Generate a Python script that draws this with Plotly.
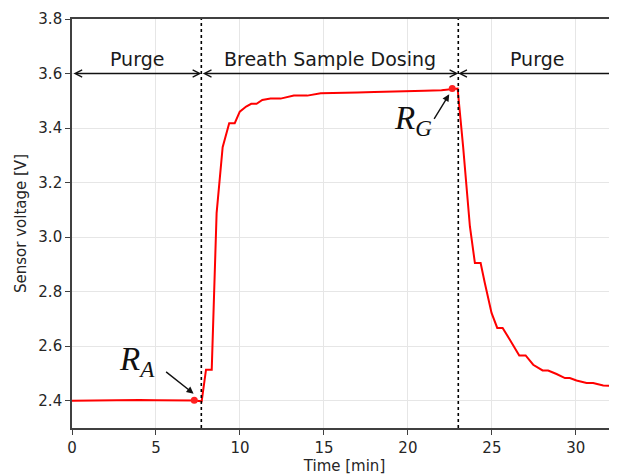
import plotly.graph_objects as go

# 传感器电压读数
time_min = [0, 1, 2, 3, 4, 5, 6, 7, 7.3, 7.72,
            7.98, 8.32, 8.61, 8.97, 9.36, 9.69, 9.99, 10.37, 10.67, 10.99,
            11.33, 11.82, 12.42, 13.21, 14.01, 14.81, 16, 17, 18, 19,
            20, 21, 22, 22.64, 22.96,
            23.29, 23.69, 23.99, 24.33, 24.58, 24.98, 25.32, 25.64, 26.07, 26.63,
            27.01, 27.46, 28.02, 28.35, 28.85, 29.35, 29.64, 30.04, 30.64, 31.03,
            31.63, 32.42, 32.8]
voltage = [2.400, 2.401, 2.402, 2.402, 2.403, 2.402, 2.402, 2.401, 2.401, 2.398,
           2.514, 2.514, 3.088, 3.330, 3.418, 3.418, 3.460, 3.479, 3.489, 3.489,
           3.503, 3.508, 3.508, 3.519, 3.519, 3.528, 3.528, 3.530, 3.532, 3.533,
           3.535, 3.537, 3.539, 3.542, 3.545,
           3.330, 3.040, 2.905, 2.905, 2.832, 2.722, 2.667, 2.667, 2.624, 2.566,
           2.566, 2.532, 2.511, 2.511, 2.498, 2.483, 2.483, 2.474, 2.465, 2.465,
           2.456, 2.453, 2.452]

# 阶段分界与标签
phase_edges = [0, 7.7, 23.0, 32.45]
phase_labels = ['Purge', 'Breath Sample Dosing', 'Purge']

# R_A / R_G 取点
ra_point = (7.28, 2.402)
rg_point = (22.64, 3.545)

x_ticks = [0, 5, 10, 15, 20, 25, 30]
y_ticks = [2.4, 2.6, 2.8, 3.0, 3.2, 3.4, 3.6, 3.8]

fig = go.Figure()

# 电压曲线
fig.add_trace(go.Scatter(
    x=time_min, y=voltage, mode='lines',
    line=dict(color='#ff0000', width=2), showlegend=False
))

# R_A 和 R_G 点
fig.add_trace(go.Scatter(
    x=[ra_point[0], rg_point[0]], y=[ra_point[1], rg_point[1]], mode='markers',
    marker=dict(color='#ff2020', size=7), showlegend=False
))

# 分界虚线
for xv in phase_edges[1:3]:
    fig.add_vline(x=xv, line=dict(color='black', width=1.6, dash='dot'), layer='above')

# 阶段箭头和文字
for i, label in enumerate(phase_labels):
    x0, x1 = phase_edges[i], phase_edges[i + 1]
    fig.add_annotation(
        x=x1 if i < 2 else x0, y=3.6,
        ax=x0 if i < 2 else x1, ay=3.6,
        xref='x', yref='y', axref='x', ayref='y',
        text='', showarrow=True,
        arrowhead=5, arrowside='end+start' if i < 2 else 'end',
        arrowsize=1, arrowwidth=1.4, arrowcolor='#111111'
    )
    fig.add_annotation(
        x=(x0 + x1) / 2 if i < 2 else 27.7, y=3.655,
        text=label, showarrow=False,
        font=dict(family='DejaVu Sans', size=19, color='#1a1a1a')
    )

# R_A 标注
fig.add_annotation(
    x=7.24, y=2.426, ax=-29, ay=-23, text='', showarrow=True,
    arrowhead=2, arrowsize=1, arrowwidth=1.4, arrowcolor='#111111'
)
fig.add_annotation(
    x=3.87, y=2.543, text='<i>R</i><sub><i>A</i></sub>', showarrow=False,
    font=dict(family='Liberation Serif', size=33, color='#111111')
)

# R_G 标注
fig.add_annotation(
    x=22.46, y=3.524, ax=-16, ay=26, text='', showarrow=True,
    arrowhead=2, arrowsize=1, arrowwidth=1.4, arrowcolor='#111111'
)
fig.add_annotation(
    x=20.3, y=3.426, text='<i>R</i><sub><i>G</i></sub>', showarrow=False,
    font=dict(family='Liberation Serif', size=33, color='#111111')
)

# 页面body有8px边距，这里把图缩小8px来抵消
fig.update_layout(
    width=609, height=467,
    margin=dict(l=64, r=0, t=11, b=47),
    plot_bgcolor='white', paper_bgcolor='white',
    font=dict(family='DejaVu Sans', color='#262626'),
    xaxis=dict(
        range=[0, 32.45], tickvals=x_ticks, title=dict(text='Time [min]', font=dict(size=15), standoff=3),
        tickfont=dict(size=15), showgrid=True, gridcolor='#e6e6e6', gridwidth=1,
        showline=True, linecolor='#404040', linewidth=1.6, mirror=True,
        ticks='outside', ticklen=5, tickcolor='#404040', zeroline=False
    ),
    yaxis=dict(
        range=[2.3, 3.8], tickvals=y_ticks, tickformat='.1f',
        title=dict(text='Sensor voltage [V]', font=dict(size=15), standoff=8),
        tickfont=dict(size=15), showgrid=True, gridcolor='#e6e6e6', gridwidth=1,
        showline=True, linecolor='#404040', linewidth=1.6,
        ticks='outside', ticklen=5, tickcolor='#404040', zeroline=False
    )
)

fig.write_html('out.html')
